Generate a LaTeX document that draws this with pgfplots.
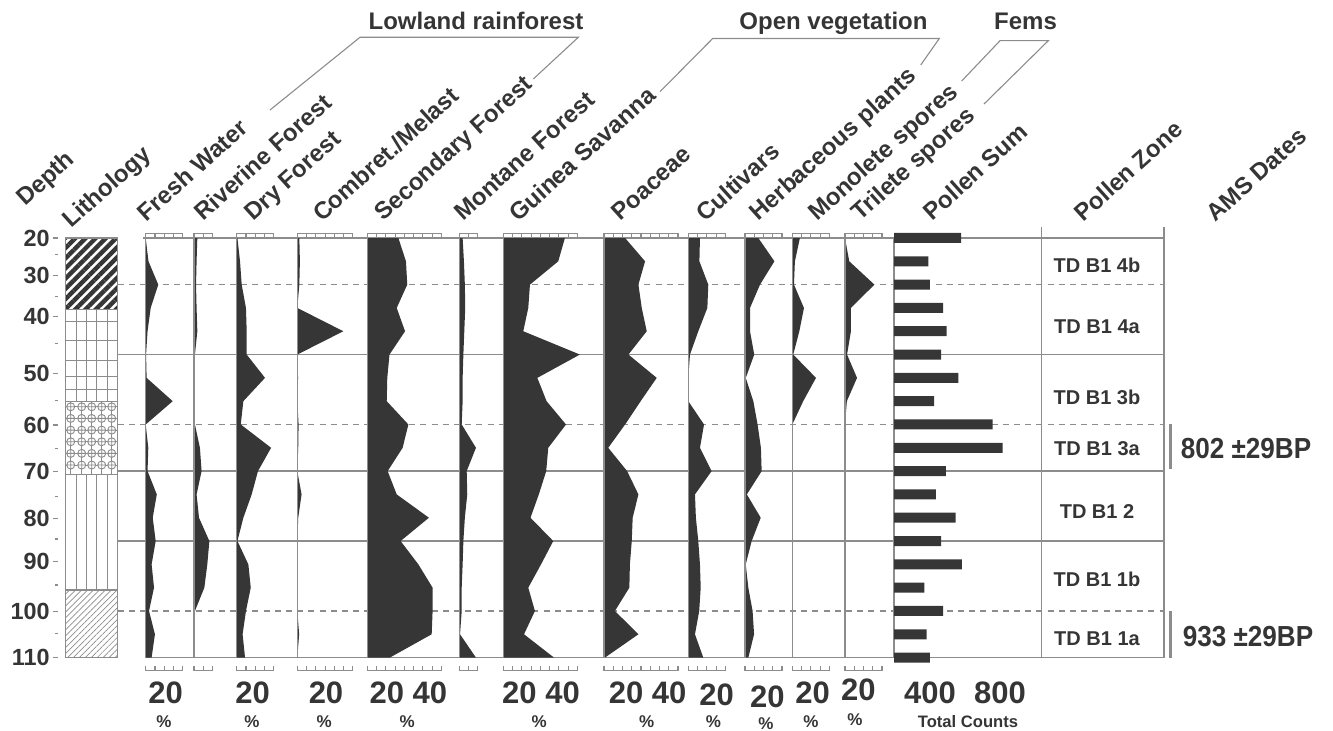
\documentclass[border=0pt]{standalone}
\usepackage{pgfplots}
\pgfplotsset{compat=1.18}
\usepackage{pgfplotstable}
\usepackage{fontspec}
\setmainfont{Liberation Sans}
\usetikzlibrary{patterns.meta}

\definecolor{ink}{HTML}{353535}
\definecolor{fillc}{HTML}{363636}
\definecolor{rule}{HTML}{8C8C8C}

% pollen percentages per sample (depth in cm);
% first and last rows close the silhouettes on the zero line
\pgfplotstableread{
d    fw    rf    df    cm    sf    mf    gs    po    cu    he    mo    tr
20   0     0     0     0     0     0     0     0     0     0     0     0
20   0     1.8   0.4   1.1   16.8  1.8   33.3  11.4  6.3   7.2   4.1   0
25   1.5   1.4   1.8   1.4   20.9  2.5   29.7  22.2  6.0   15.9  1.4   2.3
30   6.8   1.1   2.7   1.1   21.6  3.0   14.4  18.6  10.8  8.1   0.9   15.9
35   2.7   1.4   5.0   0     15.9  3.2   13.5  20.4  10.3  2.7   6.3   3.2
40   1.0   1.8   5.4   24.9  20.4  2.7   10.8  23.1  5.4   2.7   3.8   3.2
45   0.2   0.5   5.4   0     12.0  2.2   41.4  13.2  0.9   5.0   0.5   1.1
50   0.5   0.4   15.3  0.4   10.8  1.8   18.4  28.5  0     0.4   12.8  6.5
55   14.6  0.4   3.6   0     10.5  1.8   23.4  19.8  0     4.5   5.9   1.0
60   0     0.5   2.2   0.7   22.2  1.3   33.9  11.4  8.5   6.8   0     0
65   1.4   3.2   18.6  0.5   19.1  9.0   24.3  2.3   6.3   8.6   0     0
70   1.0   4.1   11.5  0     11.0  4.0   23.2  12.5  12.6  9.0   0     0
75   6.0   1.4   8.1   2.3   15.9  4.3   19.2  18.6  3.6   1.0   0     0
80   3.8   2.7   3.6   0.5   33.3  3.0   14.7  15.5  4.1   8.5   0     0
85   5.4   8.3   0.4   0     18.0  2.2   27.0  15.0  5.4   3.6   0     0
90   3.2   7.2   6.3   0.2   27.6  1.8   20.4  14.0  6.3   0.4   0     0
95   4.5   5.6   7.6   0     35.3  1.3   13.5  13.7  6.7   1.8   0     0
100  1.8   0.5   5.0   0     35.3  1.3   17.1  5.9   5.9   4.1   0     0.5
105  5.0   0     3.2   1.0   34.8  0.4   11.2  18.6  3.6   4.9   0     0.5
110  3.2   0     4.5   0     12.2  9.0   27.4  0.5   8.1   1.8   0     0
110  0     0     0     0     0     0     0     0     0     0     0     0
}\perc

% pollen sum (total counts)
\pgfplotstableread{
d    n
20   571
25   378
30   388
35   466
40   486
45   453
50   555
55   412
60   757
65   816
70   482
75   422
80   539
85   453
90   575
95   355
100  466
105  369
110  388
}\psum

\tikzset{
  rule line/.style={draw=rule, line width=0.65pt},
  hd/.style={rotate=42, anchor=base west, inner sep=0pt, text=ink,
    font=\fontsize{12}{14}\selectfont\bfseries},
  grp/.style={anchor=base, text=ink, font=\fontsize{12}{14}\selectfont\bfseries},
  zone/.style={text=ink, font=\fontsize{10}{12}\selectfont\bfseries},
  date/.style={anchor=west, inner sep=0pt, xscale=0.9, text=ink,
    font=\fontsize{14.5}{16}\selectfont\bfseries},
  big/.style={text=ink, inner sep=0pt, font=\fontsize{15.5}{17}\selectfont\bfseries},
  pct/.style={text=ink, inner sep=0pt, font=\fontsize{8.5}{9}\selectfont\bfseries},
}
% 1 px of the reference = 0.5pt, depth 20 at y=238 px, depth 110 at y=657.6 px
\pgfplotsset{
  strat/.style={scale only axis, anchor=north west, height=209.8pt,
    ymin=20, ymax=110, y dir=reverse, axis lines=none, clip=false},
  colx/.style={at={(#1*0.5pt,-119pt)}},
  taxon/.style={strat, xmin=0, xmax=#1, width=#1*0.925pt,
    after end axis/.code={
      \draw[rule line] (axis cs:0,20) -- (axis cs:0,110);
      \draw[rule line, line width=0.55pt] (axis cs:0,19) -- (axis cs:#1,19)
        (axis cs:0,112.8) -- (axis cs:#1,112.8);
      \foreach \t in {0,5,...,#1}{
        \draw[rule line, line width=0.55pt] (axis cs:\t,19) -- (axis cs:\t,20)
          (axis cs:\t,112.8) -- (axis cs:\t,111.8);}
    }},
  silhouette/.style={draw=none, fill=fillc},
}

\begin{document}
\begin{tikzpicture}
\path[use as bounding box] (0,0) rectangle (666.5pt,-365.5pt);

% ---- frame: zone lines, zone column, date bars (x in px)
\begin{axis}[strat, at={(0pt,-119pt)}, xmin=0, xmax=1333, width=666.5pt]
  \draw[rule line] (axis cs:143,20) -- (axis cs:1164,20);
  \draw[rule line] (axis cs:145,110) -- (axis cs:1164,110);
  \draw[rule line] (axis cs:118,45) -- (axis cs:1164,45);
  \draw[rule line] (axis cs:118,70) -- (axis cs:1164,70);
  \draw[rule line] (axis cs:118,85) -- (axis cs:1164,85);
  \draw[rule line, dash pattern=on 3pt off 2.6pt] (axis cs:118,30) -- (axis cs:1164,30);
  \draw[rule line, dash pattern=on 3pt off 2.6pt] (axis cs:118,60) -- (axis cs:1164,60);
  \draw[rule line, dash pattern=on 3pt off 2.6pt] (axis cs:118,100) -- (axis cs:1164,100);
  \draw[rule line] (axis cs:894,20) -- (axis cs:894,110);
  \draw[rule line] (axis cs:1041.7,17.6) -- (axis cs:1041.7,110);
  \draw[rule line] (axis cs:1164,17.6) -- (axis cs:1164,110);
  \draw[draw=rule, line width=1.6pt] (axis cs:1170.5,60) -- (axis cs:1170.5,69.6);
  \draw[draw=rule, line width=1.6pt] (axis cs:1170.5,100) -- (axis cs:1170.5,110);
\end{axis}

% ---- depth scale
\begin{axis}[scale only axis, anchor=north west, at={(58*0.5pt,-119pt)},
    width=2pt, height=209.8pt, xmin=0, xmax=1, ymin=20, ymax=110, y dir=reverse,
    hide x axis, axis y line=left, y axis line style={draw=none},
    tick align=outside, major tick length=2.5pt, minor tick length=1.5pt,
    tick style={draw=rule, line width=0.7pt},
    ytick={20,28.1,36.9,49.0,60.1,70.1,80.1,89.4,100.1,110},
    yticklabels={20,30,40,50,60,70,80,90,100,110},
    minor ytick={23.6,32.6,42.6,54.8,65.1,75.4,84.6,94.4,104.8},
    yticklabel style={text=ink, font=\fontsize{11.7}{13}\selectfont\bfseries,
      inner sep=0pt, xshift=-1.5pt},
    /pgf/number format/assume math mode=true]
\end{axis}

% ---- lithology
\begin{axis}[strat, colx=65.7, xmin=0, xmax=51.6, width=25.8pt]
  \fill[pattern={Lines[angle=45,distance=3.6pt,line width=2.2pt]}, pattern color=fillc]
    (axis cs:0,20) rectangle (axis cs:51.6,35.4);
  \fill[pattern={Lines[angle=45,distance=2.1pt,line width=0.35pt]}, pattern color=rule]
    (axis cs:0,95.5) rectangle (axis cs:51.6,110);
  \pgfplotsinvokeforeach{10.3,20.6,31,41.3}{
    \draw[rule line, line width=0.5pt] (axis cs:#1,35.4) -- (axis cs:#1,55.1);
    \draw[rule line, line width=0.5pt] (axis cs:#1,70.7) -- (axis cs:#1,95.5);}
  \pgfplotsinvokeforeach{38.0,41.9,46.2,49.8,52.6}{
    \draw[rule line, line width=0.5pt] (axis cs:0,#1) -- (axis cs:51.6,#1);}
  \pgfplotsinvokeforeach{56.2,58.7,61.2,63.7,66.2,68.7}{
    \draw[rule line, line width=0.5pt] (axis cs:0,#1) -- (axis cs:51.6,#1);}
  \pgfplotsinvokeforeach{5,16,26,36,46}{
    \draw[rule line, line width=0.5pt] (axis cs:#1,55.1) -- (axis cs:#1,70.7);}
  \addplot[only marks, mark=oplus*, mark size=2pt,
    mark options={fill=white, draw=rule, line width=0.45pt}] coordinates {
    (5,56.2) (16,56.2) (26,56.2) (36,56.2) (46,56.2)
    (5,58.7) (16,58.7) (26,58.7) (36,58.7) (46,58.7)
    (5,61.2) (16,61.2) (26,61.2) (36,61.2) (46,61.2)
    (5,63.7) (16,63.7) (26,63.7) (36,63.7) (46,63.7)
    (5,66.2) (16,66.2) (26,66.2) (36,66.2) (46,66.2)
    (5,68.7) (16,68.7) (26,68.7) (36,68.7) (46,68.7)
  };
  \draw[rule line] (axis cs:0,20) rectangle (axis cs:51.6,110);
  \draw[rule line] (axis cs:0,35.4) -- (axis cs:51.6,35.4)
    (axis cs:0,55.1) -- (axis cs:51.6,55.1)
    (axis cs:0,70.7) -- (axis cs:51.6,70.7)
    (axis cs:0,95.5) -- (axis cs:51.6,95.5);
\end{axis}

% ---- percentage silhouettes
\begin{axis}[taxon=20, colx=145.7]
  \addplot[silhouette] table[x=fw, y=d] {\perc};
\end{axis}
\begin{axis}[taxon=10, colx=194]
  \addplot[silhouette] table[x=rf, y=d] {\perc};
\end{axis}
\begin{axis}[taxon=20, colx=236.7]
  \addplot[silhouette] table[x=df, y=d] {\perc};
\end{axis}
\begin{axis}[taxon=30, colx=297.3]
  \addplot[silhouette] table[x=cm, y=d] {\perc};
\end{axis}
\begin{axis}[taxon=40, colx=367.3]
  \addplot[silhouette] table[x=sf, y=d] {\perc};
\end{axis}
\begin{axis}[taxon=10, colx=459.3]
  \addplot[silhouette] table[x=mf, y=d] {\perc};
\end{axis}
\begin{axis}[taxon=40, colx=503.3]
  \addplot[silhouette] table[x=gs, y=d] {\perc};
\end{axis}
\begin{axis}[taxon=40, colx=604]
  \addplot[silhouette] table[x=po, y=d] {\perc};
\end{axis}
\begin{axis}[taxon=20, colx=688.3]
  \addplot[silhouette] table[x=cu, y=d] {\perc};
\end{axis}
\begin{axis}[taxon=20, colx=745]
  \addplot[silhouette] table[x=he, y=d] {\perc};
\end{axis}
\begin{axis}[taxon=20, colx=792.3]
  \addplot[silhouette] table[x=mo, y=d] {\perc};
\end{axis}
\begin{axis}[taxon=20, colx=845]
  \addplot[silhouette] table[x=tr, y=d] {\perc};
\end{axis}

% ---- pollen sum bars
\begin{axis}[strat, clip=true, at={(894*0.5pt,-115.5pt)}, height=216.8pt,
    ymin=18.5, ymax=111.5, xmin=176.5, xmax=900, width=61.5pt]
  \addplot[xbar, bar width=5pt, draw=none, fill=fillc] table[x=n, y=d] {\psum};
\end{axis}

% ---- text (x, y in px of the reference)
\begin{scope}[x=0.5pt, y=-0.5pt]
  \node[hd] at (25,207) {Depth};
  \node[hd] at (71.7,229) {Lithology};
  \node[hd] at (146.7,223) {Fresh Water};
  \node[hd] at (203,222) {Riverine Forest};
  \node[hd] at (253,222) {Dry Forest};
  \node[hd] at (321.7,223) {Combret./Melast};
  \node[hd] at (383,222) {Secondary Forest};
  \node[hd] at (463,222) {Montane Forest};
  \node[hd] at (518,223) {Guinea Savanna};
  \node[hd] at (620,222) {Poaceae};
  \node[hd] at (705,223) {Cultivars};
  \node[hd] at (758,222) {Herbaceous plants};
  \node[hd] at (817,222) {Monolete spores};
  \node[hd] at (860,222) {Trilete spores};
  \node[hd] at (932,222) {Pollen Sum};
  \node[hd] at (1083,223) {Pollen Zone};
  \node[hd] at (1215,223) {AMS Dates};

  \node[grp] at (476,30) {Lowland rainforest};
  \node[grp] at (833.5,30) {Open vegetation};
  \node[grp] at (1025.5,30) {Fems};
  \draw[draw=rule, line width=0.55pt] (270,110) -- (360,37.3) -- (578.3,37.3) -- (533.3,79);
  \draw[draw=rule, line width=0.55pt] (660,91.7) -- (712.7,38.5) -- (939.3,38.5) -- (920.7,65);
  \draw[draw=rule, line width=0.55pt] (961.7,81) -- (1000,40.7) -- (1048.3,40.7) -- (984,104);

  \node[zone] at (1097,265) {TD B1 4b};
  \node[zone] at (1097,327) {TD B1 4a};
  \node[zone] at (1097,397) {TD B1 3b};
  \node[zone] at (1097,449) {TD B1 3a};
  \node[zone] at (1097,511.7) {TD B1 2};
  \node[zone] at (1097,579.3) {TD B1 1b};
  \node[zone] at (1097,638.3) {TD B1 1a};

  \node[date] at (1180.5,449) {802 ±29BP};
  \node[date] at (1182.5,637) {933 ±29BP};

  \node[big] at (165.7,693) {20};   \node[pct] at (164,722) {\%};
  \node[big] at (252.7,693) {20};   \node[pct] at (252,722) {\%};
  \node[big] at (326,693) {20};     \node[pct] at (324.3,722) {\%};
  \node[big] at (408.3,693) {20 40}; \node[pct] at (407.3,722) {\%};
  \node[big] at (541,693) {20 40};  \node[pct] at (539.3,722) {\%};
  \node[big] at (647.7,693) {20 40}; \node[pct] at (646.7,722) {\%};
  \node[big] at (716.7,695) {20};   \node[pct] at (713.3,722) {\%};
  \node[big] at (767.3,696.7) {20}; \node[pct] at (766,723.5) {\%};
  \node[big] at (812.7,693.3) {20}; \node[pct] at (811,722) {\%};
  \node[big] at (858.3,690) {20};   \node[pct] at (855,719.5) {\%};
  \node[big] at (930,693) {400};
  \node[big] at (1000,693) {800};
  \node[text=ink, inner sep=0pt, font=\fontsize{8.3}{10}\selectfont\bfseries] at (968,721.7) {Total Counts};
\end{scope}
\end{tikzpicture}
\end{document}
